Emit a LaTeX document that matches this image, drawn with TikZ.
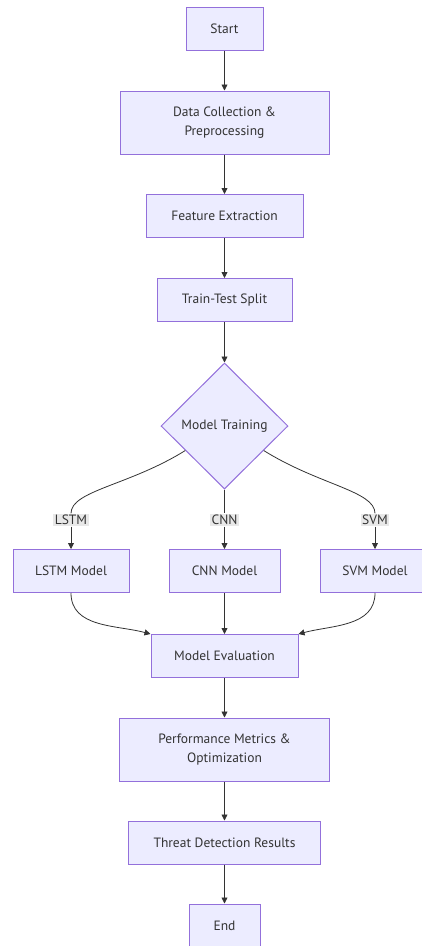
\documentclass[tikz,border=0pt]{standalone}
\usepackage{fontspec}
\setmainfont{PT Sans}
\usetikzlibrary{shapes.geometric,arrows.meta}
\definecolor{boxfill}{HTML}{ECECFF}
\definecolor{boxline}{HTML}{9370DB}
\definecolor{ink}{HTML}{333333}
\definecolor{labelbg}{HTML}{E8E8E8}
\begin{document}
\begin{tikzpicture}[x=1pt,y=-1pt]
                \useasboundingbox (0,0) rectangle (421,946);
                \begin{scope}[every node/.style={rectangle,draw=boxline,fill=boxfill,line width=1pt,text=ink,align=center,minimum height=43pt,font=\fontsize{13.5}{19}\selectfont}]
                    \node[minimum width=77pt] (start) at (224.5,28.5) {Start};
                    \node[minimum width=209pt,minimum height=63pt] (collect) at (224.5,122.5) {Data Collection \&\\Preprocessing};
                    \node[minimum width=157pt] (feature) at (224.5,216) {Feature Extraction};
                    \node[minimum width=135pt] (split) at (224.5,300) {Train-Test Split};
                    \node[diamond,minimum width=127pt,minimum height=126pt,inner sep=0pt] (train) at (224.5,426) {Model Training};
                    \node[minimum width=116pt] (lstm) at (71,571) {LSTM Model};
                    \node[minimum width=111pt] (cnn) at (224.5,571) {CNN Model};
                    \node[minimum width=110pt] (svm) at (375,571) {SVM Model};
                    \node[minimum width=147pt] (eval) at (224.5,656) {Model Evaluation};
                    \node[minimum width=210pt,minimum height=63pt] (perf) at (224.5,749.5) {Performance Metrics \&\\Optimization};
                    \node[minimum width=192pt] (threat) at (224.5,842.5) {Threat Detection Results};
                    \node[minimum width=71pt] (end) at (224.5,925.5) {End};
                \end{scope}

                \begin{scope}[every node/.style={fill=labelbg,text=ink,inner sep=1.5pt,font=\fontsize{13.5}{15}\selectfont}]
                    \node (llab) at (71,520) {LSTM};
                    \node (clab) at (224.5,520) {CNN};
                    \node (slab) at (375,520) {SVM};
                \end{scope}

                \begin{scope}[every edge/.style={draw=ink,line width=0.8pt,-{Triangle[length=6pt,width=6pt]}}]
                    \path (start) edge (collect);
                    \path (collect) edge (feature);
                    \path (feature) edge (split);
                    \path (split) edge (train);
                    \path (train.212) edge[-,out=212,in=90,out looseness=1.3,in looseness=0.45] (llab);
                    \path (train) edge[-] (clab);
                    \path (train.328) edge[-,out=328,in=90,out looseness=1.3,in looseness=0.45] (slab);
                    \path (llab) edge (lstm);
                    \path (clab) edge (cnn);
                    \path (slab) edge (svm);
                    \path (lstm) edge[out=-90,in=165] (eval.north west);
                    \path (cnn) edge (eval);
                    \path (svm) edge[out=-90,in=15] (eval.north east);
                    \path (eval) edge (perf);
                    \path (perf) edge (threat);
                    \path (threat) edge (end);
                \end{scope}
            \end{tikzpicture}
\end{document}
